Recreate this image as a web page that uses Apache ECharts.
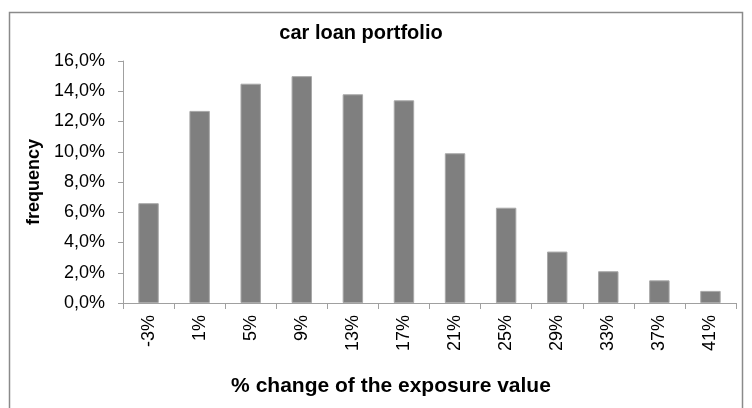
<!DOCTYPE html>
<html>
<head>
<meta charset="utf-8">
<script src="https://cdn.jsdelivr.net/npm/echarts@6/dist/echarts.min.js"></script>
<style>
  html, body { margin: 0; padding: 0; background: #fff; }
  #chart { width: 752px; height: 408px; }
</style>
</head>
<body>
<div id="chart"></div>
<script>
var categories = ['-3%', '1%', '5%', '9%', '13%', '17%', '21%', '25%', '29%', '33%', '37%', '41%']
var frequency = [6.6, 12.7, 14.5, 15.0, 13.8, 13.4, 9.9, 6.3, 3.4, 2.1, 1.5, 0.8]
var chartTitle = 'car loan portfolio'
var xTitle = '% change of the exposure value'
var yTitle = 'frequency'

var font = 'Liberation Sans, Arial, sans-serif'
var chart = echarts.init(document.getElementById('chart'))

chart.setOption({
  animation: false,
  backgroundColor: '#fff',
  grid: {
    left: 123,
    top: 61,
    right: 16,
    bottom: 105
  },
  graphic: [
    {
      type: 'rect',
      shape: { x: 9.5, y: 12.5, width: 733, height: 420 },
      style: { fill: 'none', stroke: '#8a8a8a', lineWidth: 1.5 }
    },
    {
      type: 'text',
      x: 361,
      y: 33,
      style: {
        text: chartTitle,
        font: 'bold 20px ' + font,
        fill: '#000',
        textAlign: 'center',
        textVerticalAlign: 'middle'
      }
    },
    {
      type: 'text',
      x: 391,
      y: 386,
      style: {
        text: xTitle,
        font: 'bold 21px ' + font,
        fill: '#000',
        textAlign: 'center',
        textVerticalAlign: 'middle'
      }
    },
    {
      type: 'text',
      x: 34,
      y: 182,
      rotation: Math.PI / 2,
      style: {
        text: yTitle,
        font: 'bold 18px ' + font,
        fill: '#000',
        textAlign: 'center',
        textVerticalAlign: 'middle'
      }
    }
  ],
  xAxis: {
    type: 'category',
    data: categories,
    axisLine: { lineStyle: { color: '#a0a0a0', width: 1 } },
    axisTick: { show: true, length: 6, lineStyle: { color: '#a0a0a0' } },
    axisLabel: {
      rotate: 90,
      margin: 12,
      color: '#000',
      fontFamily: font,
      fontSize: 18
    }
  },
  yAxis: {
    type: 'value',
    min: 0,
    max: 16,
    interval: 2,
    splitLine: { show: false },
    axisLine: { show: true, lineStyle: { color: '#a0a0a0', width: 1 } },
    axisTick: { show: true, length: 5, lineStyle: { color: '#a0a0a0' } },
    axisLabel: {
      margin: 18,
      color: '#000',
      fontFamily: font,
      fontSize: 18,
      formatter: function (v) {
        return v.toFixed(1).replace('.', ',') + '%'
      }
    }
  },
  series: [
    {
      type: 'bar',
      data: frequency,
      barCategoryGap: '60%',
      itemStyle: {
        color: '#7f7f7f',
        borderColor: '#a8a8a8',
        borderWidth: 1
      }
    }
  ]
})
</script>
</body>
</html>
